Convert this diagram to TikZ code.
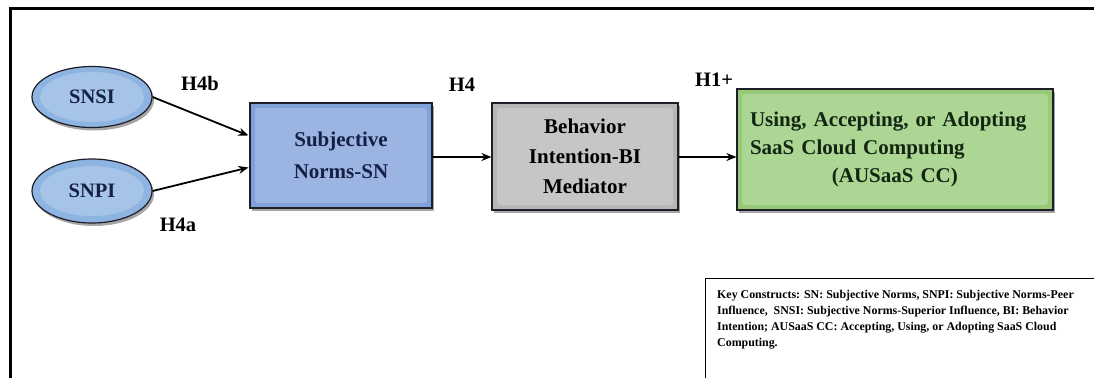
\documentclass[tikz,border=0pt]{standalone}
\usepackage{fontspec}
\setmainfont{Liberation Serif}[BoldFont={Liberation Serif Bold}]
\newfontfamily\tnr{Liberation Serif}[BoldFont={Liberation Serif Bold}]
\usetikzlibrary{arrows.meta,shadows,calc,shapes.geometric}

\definecolor{ovalblue}{RGB}{142,180,226}
\definecolor{snblue}{RGB}{128,160,218}
\definecolor{bigray}{RGB}{182,182,182}
\definecolor{augreen}{RGB}{150,202,118}
\definecolor{edge}{RGB}{30,30,40}
\definecolor{navy}{RGB}{22,32,70}
\definecolor{deepgreen}{RGB}{18,38,18}

\tikzset{
  dshadow/.style={drop shadow={shadow xshift=2pt, shadow yshift=-3pt, opacity=0.35, fill=black}},
  bevel/.style={path picture={
    \fill[white, opacity=0.22, rounded corners=3pt]
      ([shift={(5pt,-5pt)}]path picture bounding box.north west) rectangle
      ([shift={(-5pt,5pt)}]path picture bounding box.south east);}},
  ovalbevel/.style={path picture={
    \fill[white, opacity=0.22] (path picture bounding box.center)
      ellipse [x radius=52pt, y radius=25pt];}},
  oval/.style={ellipse, draw=edge, line width=1.2pt, fill=ovalblue, dshadow, ovalbevel,
    text=navy, font=\tnr\fontsize{20.5}{24}\selectfont\bfseries, inner sep=0pt},
  box/.style={rectangle, draw=edge, line width=1.2pt, dshadow, bevel, align=center,
    font=\tnr\fontsize{21}{30}\selectfont\bfseries, inner sep=0pt},
  hyp/.style={font=\tnr\fontsize{20.5}{24}\selectfont\bfseries, inner sep=0pt},
  arr/.style={-{Stealth[length=10pt,width=8pt]}, line width=1.8pt},
  frame/.style={line width=3pt},
  keyline/.style={line width=0.9pt},
  keytext/.style={anchor=north west, align=left, inner sep=0pt,
    font=\tnr\fontsize{11.9}{16}\selectfont\bfseries}
}

\begin{document}
\begin{tikzpicture}[x=1pt,y=-1pt]
  \useasboundingbox (0,0) rectangle (1094,378);
  \fill[white] (0,0) rectangle (1094,378);

  % outer frame (top and left edges)
  \draw[frame] (10,378) -- (10,8) -- (1094,8);

  % constructs
  \node[oval, minimum width=120pt, minimum height=61pt] (snsi) at (92,97) {SNSI};
  \node[oval, minimum width=120pt, minimum height=64pt] (snpi) at (92,191) {SNPI};
  \node[box, fill=snblue, text=navy, minimum width=182pt, minimum height=105pt,
        font=\tnr\fontsize{21}{32}\selectfont\bfseries] (sn) at (341,155.5)
    {Subjective\\Norms-SN};
  \node[box, fill=bigray, minimum width=186pt, minimum height=107pt] (bi) at (585,156.5)
    {Behavior\\Intention-BI\\Mediator};
  \node[box, fill=augreen, text=deepgreen, minimum width=316pt, minimum height=121pt,
        text width=290pt, align=left, font=\tnr\fontsize{21}{28}\selectfont\bfseries] (au) at (895,149.5)
    {Using, Accepting, or Adopting\\SaaS Cloud Computing\\\hspace*{3.9em}(AUSaaS CC)};

  % paths
  \draw[arr] (snsi.east) -- ($(sn.west)+(-1,-20)$);
  \draw[arr] (snpi.east) -- ($(sn.west)+(-1,12)$);
  \draw[arr] ($(sn.east)+(0,1.5)$) -- ($(sn.east -| bi.west)+(0,1.5)$);
  \draw[arr] ($(bi.east)+(0,0.5)$) -- ($(bi.east -| au.west)+(0,0.5)$);

  % hypothesis labels
  \node[hyp] (h4b) at (200,83) {H4b};
  \node[hyp] (h4a) at (178,225) {H4a};
  \node[hyp] (h4) at (462,85) {H4};
  \node[hyp] (h1) at (714,80) {H1+};

  % key constructs legend
  \draw[keyline] (705,378) -- (705,278) -- (1094,278);
  \node[keytext] (key) at (717,290)
    {Key Constructs: SN: Subjective Norms, SNPI: Subjective Norms-Peer\\
     Influence,\ \ SNSI: Subjective Norms-Superior Influence, BI: Behavior\\
     Intention; AUSaaS CC: Accepting, Using, or Adopting SaaS Cloud\\
     Computing.};
\end{tikzpicture}
\end{document}
